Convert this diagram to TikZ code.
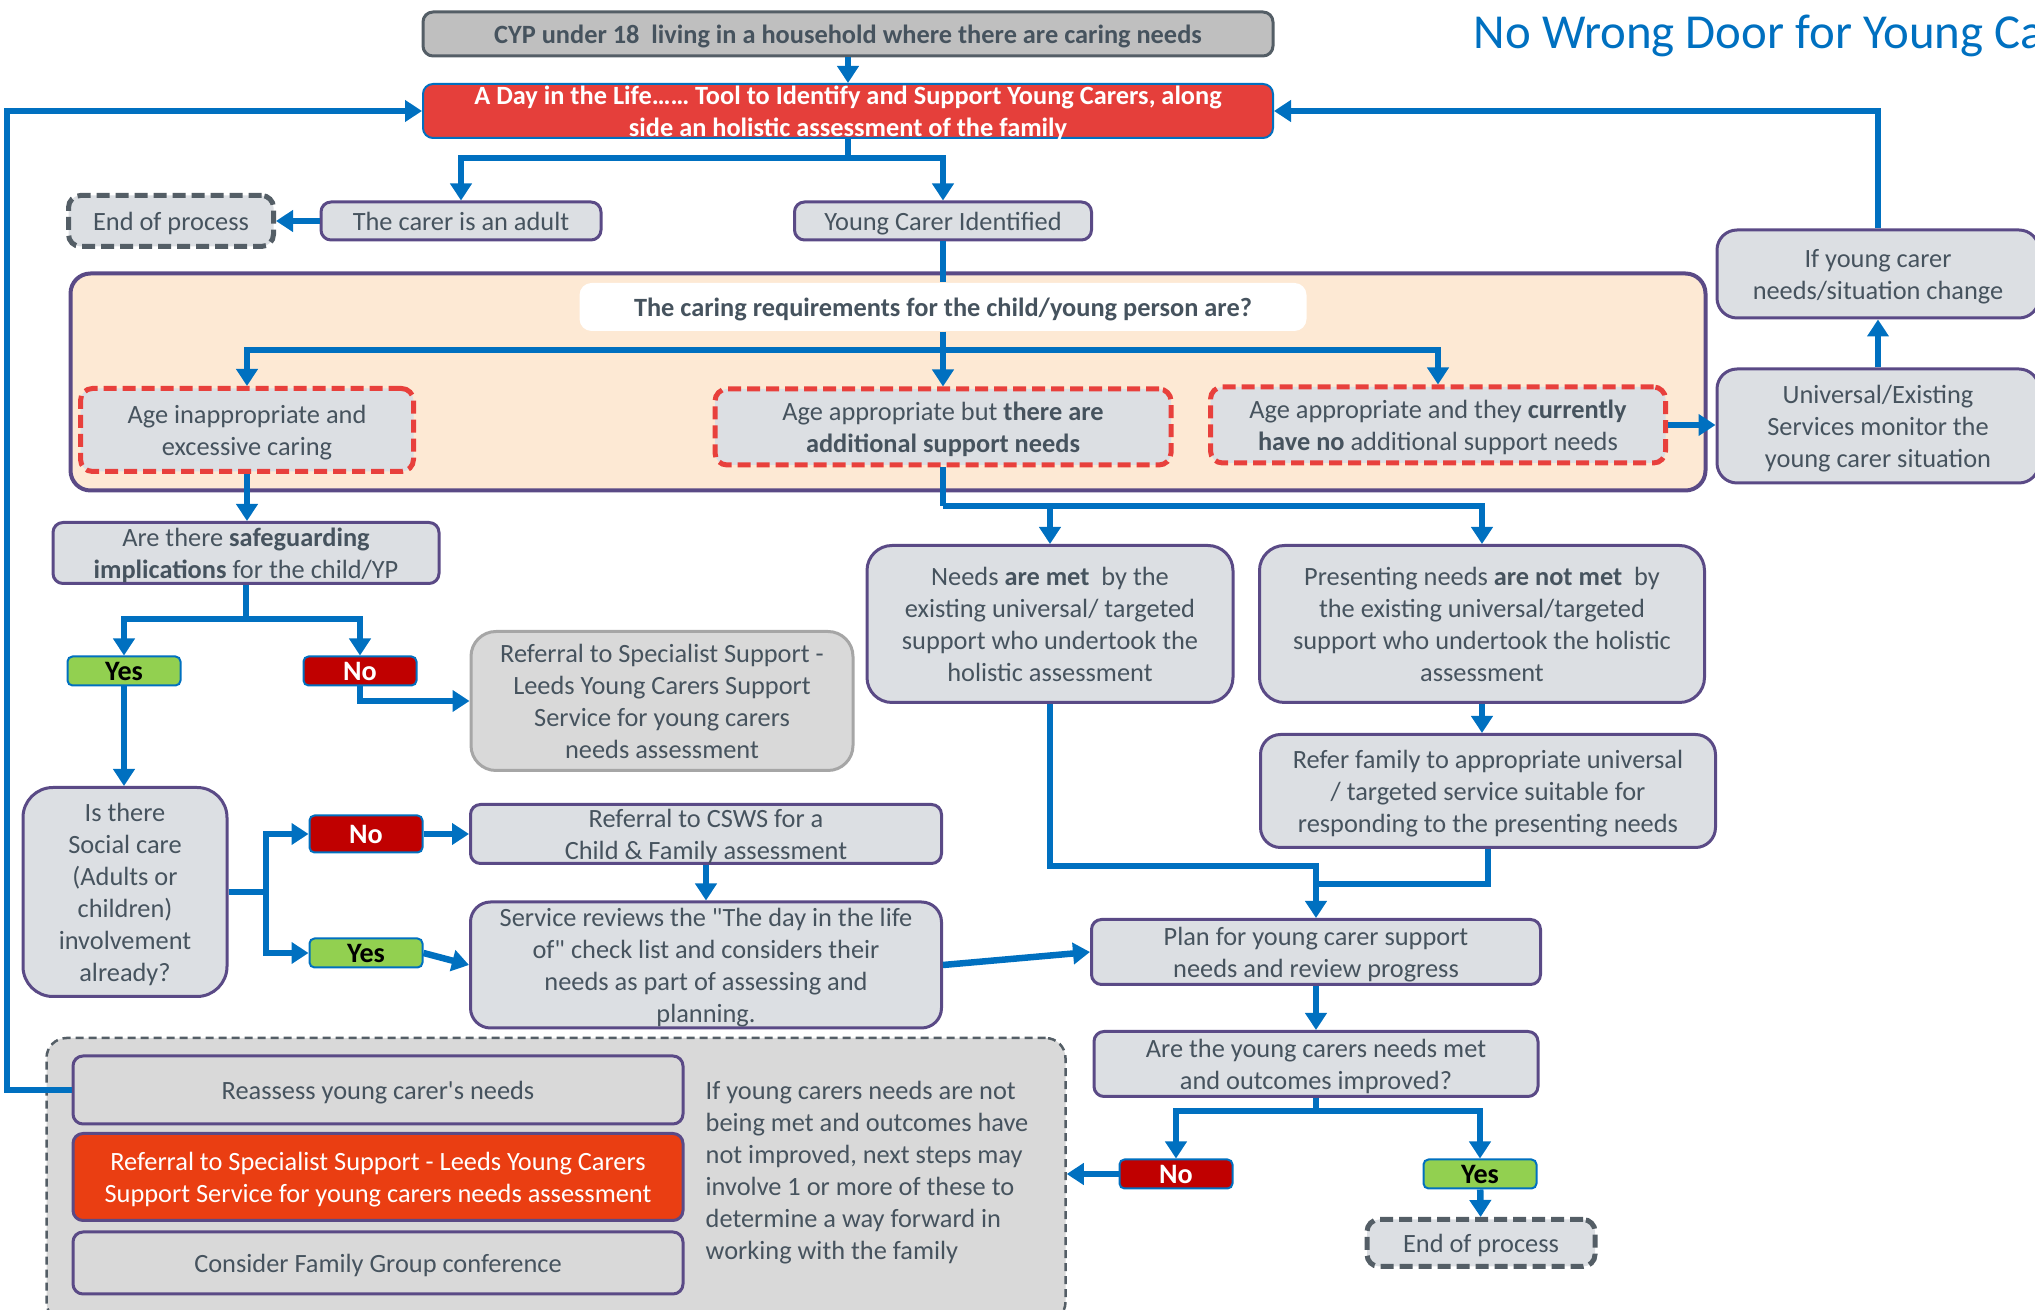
\documentclass[tikz,border=0pt]{standalone}
\usepackage{fontspec}
\setmainfont{Carlito}[Ligatures=TeXOff]
\usetikzlibrary{arrows.meta}
\definecolor{flowblue}{HTML}{0070C0}
\definecolor{boxgray}{HTML}{DCDFE3}
\definecolor{boxpurple}{HTML}{5A4A86}
\definecolor{textgray}{HTML}{46535E}
\definecolor{dashred}{HTML}{E8403C}
\definecolor{peach}{HTML}{FDE9D4}
\definecolor{dayred}{HTML}{E53F3B}
\definecolor{specorange}{HTML}{EA3E12}
\definecolor{nored}{HTML}{C00000}
\definecolor{yesgreen}{HTML}{92D050}
\definecolor{refgray}{HTML}{D9D9D9}
\definecolor{refborder}{HTML}{A6A6A6}
\definecolor{enddark}{HTML}{545E66}
\definecolor{cypgray}{HTML}{BFBFBF}
\begin{document}
\begin{tikzpicture}
[x=0.1mm,y=-0.1mm,
 every node/.style=
   {font=\fontsize{7.5}{9.1}\selectfont,text=textgray,align=center,
    inner xsep=1mm,inner ysep=0pt,text depth=0pt},
 boldtext/.style={font=\fontsize{7.5}{9.1}\selectfont\bfseries},
 titletext/.style={font=\fontsize{13.9}{16}\selectfont,text=flowblue,inner sep=0pt},
 box/.style={rectangle,rounded corners=1mm,draw=boxpurple,line width=0.3mm,fill=boxgray},
 reddash/.style={rectangle,rounded corners=1.2mm,draw=dashred,line width=0.5mm,
   dash pattern=on 1.3mm off 0.6mm,fill=boxgray},
 endbox/.style={rectangle,rounded corners=1.2mm,draw=enddark,line width=0.5mm,
   dash pattern=on 1.3mm off 0.6mm,fill=boxgray},
 yesbox/.style={rectangle,rounded corners=0.5mm,draw=flowblue,line width=0.2mm,
   fill=yesgreen,text=black,font=\fontsize{8}{9}\selectfont\bfseries,
   minimum width=11.3mm,minimum height=2.9mm},
 nobox/.style={yesbox,fill=nored,text=white},
 flow/.style={draw=flowblue,line width=0.65mm,-{Triangle[length=1.7mm,width=2.1mm]}},
 link/.style={draw=flowblue,line width=0.65mm}]
\useasboundingbox (0,0) rectangle (2035,1310);
\node [titletext,anchor=west] (title) at (1473,32) {No Wrong Door for Young Carers};
\node [rectangle,rounded corners=1mm,draw=enddark,line width=0.3mm,fill=cypgray,boldtext,
  minimum width=85mm,minimum height=4.4mm] (cyp) at (848,34)
  {CYP under 18~ living in a household where there are caring needs};
\node [rectangle,rounded corners=1mm,draw=flowblue,line width=0.2mm,fill=dayred,boldtext,
  text=white,minimum width=85mm,minimum height=5.4mm] (day) at (848,111)
  {A Day in the Life…… Tool to Identify and Support Young Carers, along\\side an holistic assessment of the family};
\node [endbox,minimum width=20.5mm,minimum height=5.1mm] (endA) at (171,221) {End of process};
\node [box,minimum width=28mm,minimum height=3.8mm] (adult) at (461,221) {The carer is an adult};
\node [box,minimum width=29.7mm,minimum height=3.8mm] (young) at (943,221) {Young Carer Identified};
\node [rectangle,rounded corners=2mm,draw=boxpurple,line width=0.4mm,fill=peach,
  minimum width=163.5mm,minimum height=21.7mm] (caring) at (888,382) {};
\node [rectangle,rounded corners=1.2mm,fill=white,boldtext,
  minimum width=72.7mm,minimum height=4.8mm] (req) at (943,307)
  {The caring requirements for the child/young person are?};
\node [reddash,minimum width=33.3mm,minimum height=8.3mm] (ageA) at (247,430)
  {Age inappropriate and\\excessive caring};
\node [reddash,minimum width=45.6mm,minimum height=7.6mm] (ageB) at (943,427)
  {Age appropriate but \textbf{there are}\\\textbf{additional support needs}};
\node [reddash,minimum width=45.5mm,minimum height=7.6mm] (ageC) at (1438,425)
  {Age appropriate and they \textbf{currently}\\\textbf{have no} additional support needs};
\node [box,rounded corners=2mm,minimum width=32.2mm,minimum height=8.8mm] (ifyc) at (1878,274)
  {If young carer\\needs/situation change};
\node [box,rounded corners=2mm,minimum width=32.2mm,minimum height=11.4mm] (univ) at (1878,426)
  {Universal/Existing\\Services monitor the\\young carer situation};
\node [box,minimum width=38.6mm,minimum height=6.1mm] (safe) at (246,553)
  {Are there \textbf{safeguarding}\\\textbf{implications} for the child/YP};
\node [yesbox] (yes1) at (124,671) {Yes};
\node [nobox] (no1) at (360,671) {No};
\node [rectangle,rounded corners=2.5mm,draw=refborder,line width=0.3mm,fill=refgray,
  minimum width=38.2mm,minimum height=13.9mm] (spec) at (662,701)
  {Referral to Specialist Support -\\Leeds Young Carers Support\\Service for young carers\\needs assessment};
\node [box,rounded corners=3mm,minimum width=20.4mm,minimum height=20.9mm] (social) at (125,892)
  {Is there\\Social care\\(Adults or\\children)\\involvement\\already?};
\node [nobox,minimum height=3.7mm] (no2) at (366,834) {No};
\node [yesbox] (yes2) at (366,953) {Yes};
\node [box,minimum width=47.1mm,minimum height=5.9mm] (csws) at (706,834)
  {Referral to CSWS for a\\Child \& Family assessment};
\node [box,rounded corners=2mm,minimum width=47.1mm,minimum height=12.6mm] (serv) at (706,965)
  {Service reviews the "The day in the life\\of" check list and considers their\\needs as part of assessing and\\planning.};
\node [box,rounded corners=2.5mm,minimum width=36.6mm,minimum height=15.7mm] (met) at (1050,624)
  {Needs \textbf{are met}~ by the\\existing universal/ targeted\\support who undertook the\\holistic assessment};
\node [box,rounded corners=2.5mm,minimum width=44.5mm,minimum height=15.7mm] (notmet) at (1482,624)
  {Presenting needs \textbf{are not met}~ by\\the existing universal/targeted\\support who undertook the holistic\\assessment};
\node [box,rounded corners=2mm,minimum width=45.5mm,minimum height=11.3mm] (refer) at (1488,791)
  {Refer family to appropriate universal\\/ targeted service suitable for\\responding to the presenting needs};
\node [box,minimum width=44.9mm,minimum height=6.5mm] (plan) at (1316,952)
  {Plan for young carer support\\needs and review progress};
\node [box,minimum width=44.4mm,minimum height=6.5mm] (are) at (1316,1064)
  {Are the young carers needs met\\and outcomes improved?};
\node [nobox] (no3) at (1176,1174) {No};
\node [yesbox] (yes3) at (1480,1174) {Yes};
\node [endbox,minimum width=22.8mm,minimum height=4.7mm] (endB) at (1481,1243) {End of process};
\node [rectangle,rounded corners=2mm,draw=enddark,line width=0.25mm,dash pattern=on 0.8mm off 0.5mm,
  fill=refgray,minimum width=101.9mm,minimum height=28.4mm] (steps) at (556,1180) {};
\node [box,fill=refgray,minimum width=61mm,minimum height=6.8mm] (reas) at (378,1090)
  {Reassess young carer's needs};
\node [box,fill=specorange,text=white,minimum width=61mm,minimum height=8.7mm] (spec2) at (378,1177)
  {Referral to Specialist Support - Leeds Young Carers\\Support Service for young carers needs assessment};
\node [box,fill=refgray,minimum width=61mm,minimum height=6.2mm] (fam) at (378,1263)
  {Consider Family Group conference};
\node [anchor=west,align=left,inner sep=0pt] (note) at (705,1170)
  {If young carers needs are not\\being met and outcomes have\\not improved, next steps may\\involve 1 or more of these to\\determine a way forward in\\working with the family};
\coordinate (s1) at (848,158);
\coordinate (s2) at (943,350);
\coordinate (s3) at (943,506);
\coordinate (s4) at (246,619);
\coordinate (s5) at (266,892);
\coordinate (j1) at (1316,866);
\coordinate (j2) at (1316,884);
\coordinate (s6) at (1316,1111);
\coordinate (back) at (7,1090);
\draw[flow] (cyp) -- (day);
\draw[link] (day) -- (s1);
\draw[flow] (s1) -| (adult);
\draw[flow] (s1) -| (young);
\draw[flow] (adult) -- (endA);
\draw[link] (young) -- (req);
\draw[link] (req) -- (s2);
\draw[flow] (s2) -| (ageA);
\draw[flow] (s2) -- (ageB);
\draw[flow] (s2) -| (ageC);
\draw[flow] (ageC.east) -- (ageC.east -| univ.west);
\draw[flow] (univ) -- (ifyc);
\draw[flow] (ifyc) |- (day);
\draw[flow] (ageA.south) -- (ageA.south |- safe.north);
\draw[link] (safe) -- (s4);
\draw[flow] (s4) -| (yes1);
\draw[flow] (s4) -| (no1);
\draw[flow] (no1) |- (spec);
\draw[flow] (yes1) -- (yes1 |- social.north);
\draw[link] (social) -- (s5);
\draw[flow] (s5) |- (no2);
\draw[flow] (s5) |- (yes2);
\draw[flow] (no2) -- (csws);
\draw[flow] (csws) -- (serv);
\draw[flow] (yes2.east) -- (serv.west);
\draw[flow] (serv.east) -- (plan.west);
\draw[link] (ageB) -- (s3);
\draw[flow] (s3) -| (met);
\draw[flow] (s3) -| (notmet);
\draw[flow] (notmet.south) -- (notmet.south |- refer.north);
\draw[flow] (met) |- (j1) -- (plan);
\draw[link] (refer) |- (j2);
\draw[flow] (plan) -- (are);
\draw[link] (are) -- (s6);
\draw[flow] (s6) -| (no3);
\draw[flow] (s6) -| (yes3);
\draw[flow] (no3) -- (no3.west -| steps.east);
\draw[flow] (yes3) -- (endB);
\draw[flow] (reas) -- (back) |- (day);
\end{tikzpicture}
\end{document}
